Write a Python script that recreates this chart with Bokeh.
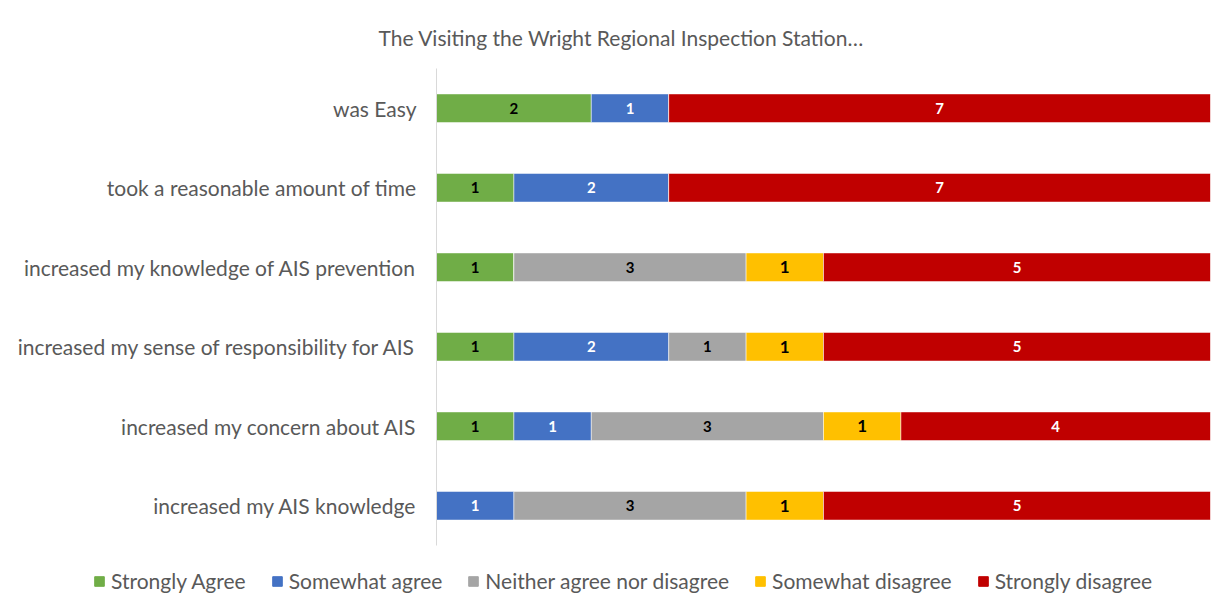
from bokeh.plotting import figure
from bokeh.models import ColumnDataSource, Range1d, FactorRange, Legend, LegendItem
from bokeh.layouts import column
from bokeh.core.properties import value
from bokeh.embed import file_html
from bokeh.resources import INLINE

title_text = "The Visiting the Wright Regional Inspection Station…"
categories = [
    "was Easy",
    "took a reasonable amount of time",
    "increased my knowledge of AIS prevention",
    "increased my sense of responsibility for AIS",
    "increased my concern about AIS",
    "increased my AIS knowledge",
]
series = ["Strongly Agree", "Somewhat agree", "Neither agree nor disagree",
          "Somewhat disagree", "Strongly disagree"]
strongly_agree = [2, 1, 1, 1, 1, 0]
somewhat_agree = [1, 2, 0, 2, 1, 1]
neither = [0, 0, 3, 1, 3, 3]
somewhat_disagree = [0, 0, 1, 1, 1, 1]
strongly_disagree = [7, 7, 5, 5, 4, 5]

colors = ["#70AD47", "#4472C4", "#A5A5A5", "#FFC000", "#C00000"]
label_colors = ["#000000", "#FFFFFF", "#000000", "#000000", "#FFFFFF"]
label_sizes = ["15px", "15px", "15px", "17px", "15px"]
label_styles = ["bold", "bold", "bold", "bold", "bold"]

values = [strongly_agree, somewhat_agree, neither, somewhat_disagree, strongly_disagree]
keys = ["sa", "swa", "n", "swd", "sd"]

data = {"cat": categories}
for k, v in zip(keys, values):
    data[k] = v
source = ColumnDataSource(data)

FONT = "Lato"
GREY = "#595959"

p = figure(width=1220, height=565, output_backend="svg", toolbar_location=None,
           y_range=FactorRange(*list(reversed(categories))), x_range=Range1d(0, 10),
           min_border_left=436, min_border_right=10, min_border_top=68, min_border_bottom=20)
p.outline_line_color = None
p.xgrid.visible = False
p.ygrid.visible = False
p.xaxis.visible = False
p.frame_align = False

renderers = p.hbar_stack(keys, y="cat", height=0.36, color=colors, source=source,
                         line_color="white", line_width=0.5)

yax = p.yaxis[0]
yax.axis_line_color = "#D9D9D9"
yax.axis_line_width = 1
yax.major_tick_line_color = None
yax.minor_tick_line_color = None
yax.major_label_text_font = FONT
yax.major_label_text_font_size = "21px"
yax.major_label_text_color = GREY
yax.major_label_standoff = 14

# segment value labels
for i, (k, v) in enumerate(zip(keys, values)):
    xs, ys, ts = [], [], []
    for j, cat in enumerate(categories):
        if v[j] == 0:
            continue
        start = sum(values[m][j] for m in range(i))
        xs.append(start + v[j] / 2)
        ys.append(cat)
        ts.append(str(v[j]))
    src = ColumnDataSource(dict(x=xs, y=ys, t=ts))
    p.text(x="x", y="y", text="t", source=src, text_align="center", text_baseline="middle",
           text_font=value(FONT), text_font_size=label_sizes[i], text_font_style=label_styles[i],
           text_color=label_colors[i])

p.title.text = title_text
p.title.align = "left"
p.title.offset = -58
p.title.standoff = 37
p.title.text_font = FONT
p.title.text_font_size = "21px"
p.title.text_font_style = "normal"
p.title.text_color = GREY

# legend strip (separate figure so the legend can span the full width)
lg = figure(width=1220, height=38, output_backend="svg", toolbar_location=None,
            x_axis_type=None, y_axis_type=None, x_range=Range1d(0, 1), y_range=Range1d(0, 1),
            min_border_left=0, min_border_right=0, min_border_top=0, min_border_bottom=0)
lg.outline_line_color = None
lg.xgrid.visible = False
lg.ygrid.visible = False
lg.frame_align = False
# legend proxies, placed outside the visible range of the strip
proxies = [lg.hbar(y=[-5], left=[0], right=[1], height=1, color=c) for c in colors]

legend = Legend(items=[LegendItem(label=s, renderers=[r]) for s, r in zip(series, proxies)],
                orientation="horizontal", location=(93, 10))
legend.label_text_font = FONT
legend.label_text_font_size = "21px"
legend.label_text_color = GREY
legend.glyph_width = 12
legend.glyph_height = 12
legend.label_standoff = 6
legend.spacing = 25
legend.padding = 0
legend.margin = 0
legend.border_line_color = None
legend.background_fill_alpha = 0
lg.add_layout(legend, "center")

layout = column(p, lg, spacing=0)
open("out.html", "w").write(file_html(layout, INLINE))
